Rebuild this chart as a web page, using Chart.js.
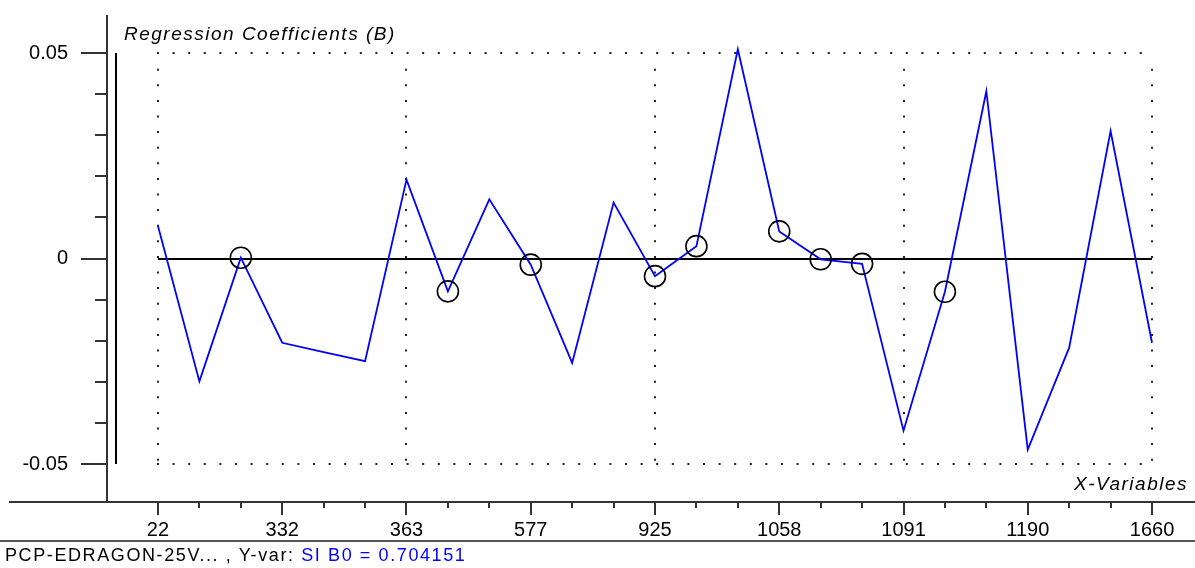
<!DOCTYPE html>
<html lang="en">
<head>
<meta charset="UTF-8">
<title>Regression Coefficients (B)</title>
<script src="https://cdn.jsdelivr.net/npm/chart.js"></script>
<style>
    body { margin: 0; background: #fff; }
    #wrap { position: relative; width: 1195px; height: 568px; overflow: hidden; }
    #status-line { position: absolute; left: 0; top: 540px; width: 1195px; height: 0; border-top: 2px solid #555; }
    #status { position: absolute; left: 5px; top: 546px; font: 18px Arial, "Liberation Sans", sans-serif; line-height: 18px; color: #000; letter-spacing: 1.6px; white-space: nowrap; }
    #status span { color: #0000ff; }
</style>
</head>
<body>
<div id="wrap">
    <canvas id="coef-chart" width="1195" height="568"></canvas>
    <div id="status-line"></div>
    <div id="status">PCP-EDRAGON-25V... , Y-var: <span>SI B0 = 0.704151</span></div>
</div>

<script>
    // x-variable labels, one for every third variable
    const xLabels = ['22', '332', '363', '577', '925', '1058', '1091', '1190', '1660'];
    // regression coefficient of each x-variable (25 variables)
    const coefficients = [
        0.0079, -0.0299, 0.0002, -0.0205, -0.0228, -0.0250, 0.0192, -0.0080, 0.0144,
        -0.0015, -0.0254, 0.0136, -0.0043, 0.0030, 0.0509, 0.0066, -0.0002, -0.0013,
        -0.0419, -0.0081, 0.0407, -0.0465, -0.0217, 0.0310, -0.0205
    ];
    // variables flagged with a circle
    const markedIdx = [2, 7, 9, 12, 13, 15, 16, 17, 19];
    // y tick labels
    const yTickValues = [-0.05, 0, 0.05];
    const yTickLabels = ['-0.05', '0', '0.05'];

    const labelFont = { family: 'Arial, "Liberation Sans", sans-serif', size: 20 };

    // axes, ticks, dotted grid, zero line and titles
    const decorPlugin = {
        id: 'decor',
        beforeDatasetsDraw(chart) {
            const { ctx, chartArea } = chart;
            const xs = chart.scales.x, ys = chart.scales.y;
            const n = coefficients.length - 1;
            const x0 = xs.getPixelForValue(0), x1 = xs.getPixelForValue(n);
            const yTop = ys.getPixelForValue(0.05), yBot = ys.getPixelForValue(-0.05);
            ctx.save();

            // dotted grid
            ctx.strokeStyle = '#222';
            ctx.lineWidth = 2;
            ctx.setLineDash([2, 13.6]);
            [0.05, -0.05].forEach(v => {
                const y = Math.round(ys.getPixelForValue(v));
                ctx.beginPath(); ctx.moveTo(x0 - 1, y); ctx.lineTo(x1 + 1, y); ctx.stroke();
            });
            for (let i = 0; i <= n; i += 6) {
                const x = Math.round(xs.getPixelForValue(i));
                ctx.beginPath(); ctx.moveTo(x, yTop + 15.7); ctx.lineTo(x, yBot); ctx.stroke();
            }
            ctx.setLineDash([]);

            // zero line
            ctx.strokeStyle = '#000';
            ctx.lineWidth = 2;
            const yz = Math.round(ys.getPixelForValue(0));
            ctx.beginPath(); ctx.moveTo(x0, yz); ctx.lineTo(x1, yz); ctx.stroke();

            // scale bar
            ctx.beginPath(); ctx.moveTo(chartArea.left + 9, yTop); ctx.lineTo(chartArea.left + 9, yBot); ctx.stroke();

            // axis lines
            ctx.strokeStyle = '#333';
            ctx.beginPath(); ctx.moveTo(chartArea.left, chartArea.top); ctx.lineTo(chartArea.left, chartArea.bottom); ctx.stroke();
            ctx.beginPath(); ctx.moveTo(9, chartArea.bottom); ctx.lineTo(chart.width, chartArea.bottom); ctx.stroke();

            // y ticks
            for (let k = -5; k <= 5; k++) {
                const y = Math.round(ys.getPixelForValue(k * 0.01));
                const len = (k % 5 === 0) ? 26 : 12;
                ctx.beginPath(); ctx.moveTo(chartArea.left - len, y); ctx.lineTo(chartArea.left, y); ctx.stroke();
            }
            // x ticks
            for (let i = 0; i <= n; i++) {
                const x = Math.round(xs.getPixelForValue(i));
                const len = (i % 3 === 0) ? 13 : 6;
                ctx.beginPath(); ctx.moveTo(x, chartArea.bottom); ctx.lineTo(x, chartArea.bottom + len); ctx.stroke();
            }

            // titles
            ctx.fillStyle = '#000';
            ctx.font = 'italic 19px Arial, "Liberation Sans", sans-serif';
            ctx.letterSpacing = '1.5px';
            ctx.textBaseline = 'alphabetic';
            ctx.textAlign = 'left';
            ctx.fillText('Regression Coefficients (B)', 124, 40);
            ctx.textAlign = 'right';
            ctx.fillText('X-Variables', 1188, 490);
            ctx.restore();
        }
    };

    const ctx = document.getElementById('coef-chart').getContext('2d');
    new Chart(ctx, {
        type: 'line',
        data: {
            labels: coefficients.map((_, i) => i),
            datasets: [{
                data: coefficients.map((v, i) => ({ x: i, y: v })),
                borderColor: '#0000ff',
                borderWidth: 1.8,
                tension: 0,
                fill: false,
                pointRadius: c => markedIdx.includes(c.dataIndex) ? 10.5 : 0,
                pointBorderColor: '#000',
                pointBackgroundColor: 'rgba(0,0,0,0)',
                pointBorderWidth: 1.6,
                pointHoverRadius: 0
            }]
        },
        options: {
            responsive: false,
            animation: false,
            events: [],
            layout: { padding: { top: 15, left: 0, right: 0, bottom: 0 } },
            plugins: { legend: { display: false }, tooltip: { enabled: false } },
            scales: {
                x: {
                    type: 'linear',
                    min: -1.231,
                    max: 25.038,
                    grid: { display: false },
                    border: { display: false },
                    afterBuildTicks: axis => { axis.ticks = xLabels.map((_, k) => ({ value: k * 3 })); },
                    afterFit: axis => { axis.height = 66; axis.paddingLeft = 0; axis.paddingRight = 0; },
                    ticks: {
                        autoSkip: false,
                        maxRotation: 0,
                        padding: 8,
                        color: '#000',
                        font: labelFont,
                        callback: v => xLabels[Math.round(v / 3)]
                    }
                },
                y: {
                    min: -0.059246,
                    max: 0.059246,
                    grid: { display: false },
                    border: { display: false },
                    afterBuildTicks: axis => { axis.ticks = yTickValues.map(v => ({ value: v })); },
                    afterFit: axis => { axis.width = 107; axis.paddingTop = 0; axis.paddingBottom = 0; },
                    ticks: {
                        padding: 31,
                        color: '#000',
                        font: labelFont,
                        callback: v => yTickLabels[yTickValues.indexOf(v)]
                    }
                }
            }
        },
        plugins: [decorPlugin]
    });
</script>
</body>
</html>
